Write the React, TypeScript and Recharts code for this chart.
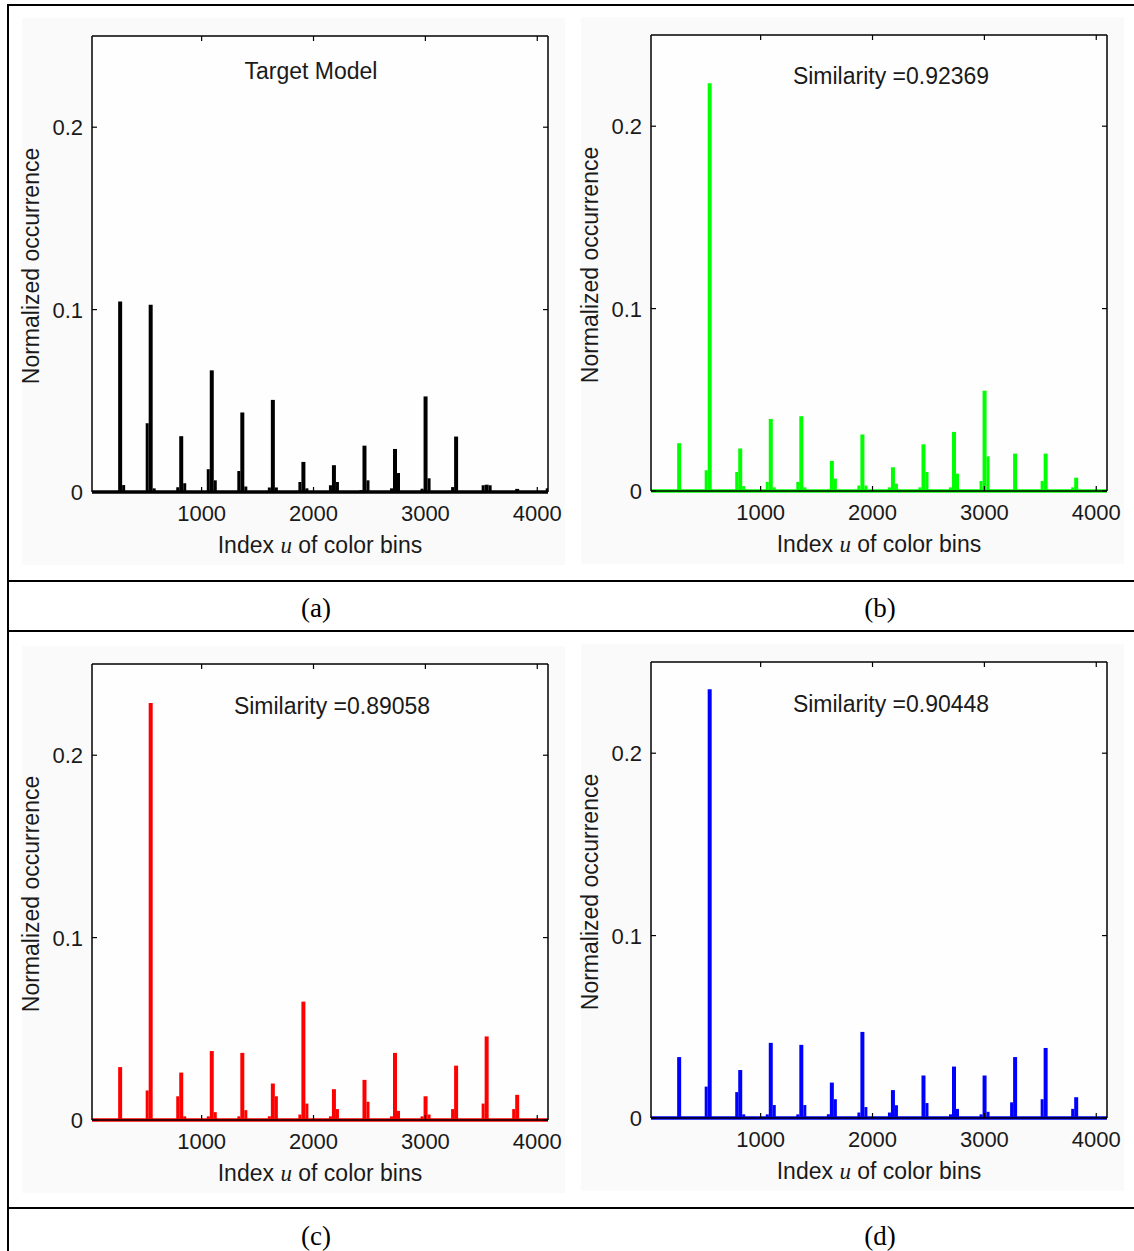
import React from 'react';
import { ComposedChart, Bar, XAxis, YAxis, ReferenceLine, Label } from 'recharts';

// gray-level bins of the 16x16x16 colour histogram (r = g = b)
const grayBins = [274, 547, 820, 1093, 1366, 1639, 1912, 2185, 2458, 2731, 3004, 3277, 3550, 3823, 4096];

const xTicks = [1000, 2000, 3000, 4000];
const yTicks = [0, 0.1, 0.2];

// (a) target model
const targetMain = [0.1045, 0.1026, 0.0306, 0.0667, 0.0436, 0.0505, 0.0165, 0.0147, 0.0254, 0.0236, 0.0524, 0.0304, 0.004, 0.0017, 0.002];
const targetLeft = [0, 0.0377, 0.0026, 0.0125, 0.0115, 0.0025, 0.0055, 0.0037, 0.001, 0.002, 0.0018, 0.0027, 0.0037, 0, 0];
const targetRight = [0.0038, 0.002, 0.0048, 0.0064, 0.003, 0.0025, 0.002, 0.0055, 0.0064, 0.0104, 0.0075, 0, 0.0037, 0, 0];

// (b) similarity 0.92369
const greenMain = [0.0262, 0.2235, 0.0233, 0.0395, 0.041, 0.0165, 0.031, 0.013, 0.0256, 0.0324, 0.055, 0.0205, 0.0205, 0.0073, 0];
const greenLeft = [0, 0.0114, 0.0104, 0.005, 0.005, 0, 0.003, 0.002, 0.002, 0.002, 0.0055, 0, 0.0055, 0.002, 0];
const greenRight = [0, 0, 0.0027, 0.002, 0.002, 0.0068, 0.003, 0.004, 0.0104, 0.0095, 0.019, 0, 0, 0, 0];

// (c) similarity 0.89058
const redMain = [0.029, 0.2286, 0.026, 0.0378, 0.0368, 0.02, 0.0649, 0.0169, 0.022, 0.0368, 0.013, 0.0298, 0.0458, 0.0138, 0];
const redLeft = [0, 0.0162, 0.013, 0.002, 0.002, 0.002, 0.003, 0.002, 0, 0.002, 0.002, 0.006, 0.009, 0.006, 0];
const redRight = [0, 0, 0.002, 0.0043, 0.0054, 0.013, 0.009, 0.006, 0.01, 0.005, 0.003, 0, 0, 0, 0];

// (d) similarity 0.90448
const blueMain = [0.0334, 0.235, 0.0263, 0.0412, 0.0401, 0.0194, 0.0472, 0.0153, 0.0233, 0.0282, 0.0233, 0.0334, 0.0384, 0.0114, 0];
const blueLeft = [0, 0.0172, 0.0142, 0.002, 0.002, 0.002, 0.003, 0.003, 0, 0.002, 0.002, 0.0086, 0.0103, 0.005, 0];
const blueRight = [0, 0, 0.002, 0.0071, 0.0071, 0.0103, 0.006, 0.007, 0.0082, 0.005, 0.0034, 0, 0, 0, 0];

const SANS = '"Liberation Sans", Arial, sans-serif';
const SERIF = '"Liberation Serif", "Times New Roman", serif';
const axisStyle = { stroke: '#000', strokeWidth: 1.5 };

const BOX_W = 456;
const BOX_H = 456;
const PAD_L = 80;
const PAD_T = 10;
const PAD_R = 40;

function BottomTick(props: any) {
  const { x, y, payload } = props;
  return (
    <g>
      <line x1={x} x2={x} y1={y} y2={y - 5} stroke="#000" strokeWidth={1.2} />
      <text x={x} y={y + 29} textAnchor="middle" fontFamily={SANS} fontSize={22} fill="#1a1a1a">
        {payload.value}
      </text>
    </g>
  );
}

function TopTick(props: any) {
  const { x, y } = props;
  return <line x1={x} x2={x} y1={y} y2={y + 5} stroke="#000" strokeWidth={1.2} />;
}

function LeftTick(props: any) {
  const { x, y, payload } = props;
  return (
    <g>
      <line x1={x} x2={x + 5} y1={y} y2={y} stroke="#000" strokeWidth={1.2} />
      <text x={x - 9} y={y + 8} textAnchor="end" fontFamily={SANS} fontSize={22} fill="#1a1a1a">
        {payload.value}
      </text>
    </g>
  );
}

function RightTick(props: any) {
  const { x, y } = props;
  return <line x1={x} x2={x - 5} y1={y} y2={y} stroke="#000" strokeWidth={1.2} />;
}

function XTitle(props: any) {
  const { viewBox } = props;
  return (
    <text x={viewBox.x + viewBox.width / 2} y={viewBox.y + 61} textAnchor="middle" fontFamily={SANS} fontSize={23} fill="#1a1a1a">
      Index <tspan fontFamily={SERIF} fontStyle="italic">u</tspan> of color bins
    </text>
  );
}

function YTitle(props: any) {
  const { viewBox } = props;
  const cx = viewBox.x + 9;
  const cy = viewBox.y + 230;
  return (
    <text x={cx} y={cy} transform={`rotate(-90 ${cx} ${cy})`} textAnchor="middle" dominantBaseline="central" fontFamily={SANS} fontSize={23} fill="#1a1a1a">
      Normalized occurrence
    </text>
  );
}

interface PanelProps {
  boxX: number;
  boxY: number;
  color: string;
  title: string;
  titleX: number;
  titleY: number;
  main: number[];
  left: number[];
  right: number[];
}

function HistPanel({ boxX, boxY, color, title, titleX, titleY, main, left, right }: PanelProps) {
  const rows = grayBins.map((bin, i) => ({ bin, left: left[i], main: main[i], right: right[i] }));
  return (
    <div style={{ position: 'absolute', left: boxX - PAD_L, top: boxY - PAD_T }}>
      {/* figure background */}
      <div style={{ position: 'absolute', left: PAD_L - 70, top: PAD_T - 18, width: 543, height: 547, background: '#fafafa' }} />
      <div style={{ position: 'absolute', left: PAD_L, top: PAD_T, width: BOX_W, height: BOX_H, background: '#fefefe' }} />
      <div style={{ position: 'absolute', left: 0, top: 0 }}>
        <ComposedChart
          width={PAD_L + BOX_W + PAD_R}
          height={PAD_T + BOX_H + 75}
          data={rows}
          margin={{ top: 5, right: 5, bottom: 5, left: 10 }}
          barGap={0}
        >
          <XAxis
            type="number"
            dataKey="bin"
            domain={[20, 4096]}
            ticks={xTicks}
            interval={0}
            allowDataOverflow
            height={70}
            tickSize={0}
            tickMargin={0}
            tickLine={false}
            axisLine={axisStyle}
            tick={(p: any) => <BottomTick {...p} />}
          >
            <Label content={(p: any) => <XTitle {...p} />} />
          </XAxis>
          <XAxis
            xAxisId="top"
            orientation="top"
            type="number"
            dataKey="bin"
            domain={[20, 4096]}
            ticks={xTicks}
            interval={0}
            allowDataOverflow
            height={5}
            tickSize={0}
            tickMargin={0}
            tickLine={false}
            axisLine={axisStyle}
            tick={(p: any) => <TopTick {...p} />}
          />
          <YAxis
            type="number"
            domain={[0, 0.25]}
            ticks={yTicks}
            interval={0}
            allowDataOverflow
            width={70}
            tickSize={0}
            tickMargin={0}
            tickLine={false}
            axisLine={axisStyle}
            tick={(p: any) => <LeftTick {...p} />}
          >
            <Label content={(p: any) => <YTitle {...p} />} />
          </YAxis>
          <YAxis
            yAxisId="right"
            orientation="right"
            type="number"
            domain={[0, 0.25]}
            ticks={yTicks}
            interval={0}
            allowDataOverflow
            width={PAD_R - 5}
            tickSize={0}
            tickMargin={0}
            tickLine={false}
            axisLine={axisStyle}
            tick={(p: any) => <RightTick {...p} />}
          />
          <Bar dataKey="left" fill={color} barSize={3} isAnimationActive={false} />
          <Bar dataKey="main" fill={color} barSize={4} isAnimationActive={false} />
          <Bar dataKey="right" fill={color} barSize={3} isAnimationActive={false} />
          <ReferenceLine y={0} stroke={color} strokeWidth={3.5} />
        </ComposedChart>
      </div>
      <div
        style={{
          position: 'absolute',
          left: PAD_L + titleX,
          top: PAD_T + titleY,
          transform: 'translate(-50%, -50%)',
          whiteSpace: 'nowrap',
          fontFamily: SANS,
          fontSize: 23,
          color: '#1a1a1a',
        }}
      >
        {title}
      </div>
    </div>
  );
}

function Caption({ x, y, text }: { x: number; y: number; text: string }) {
  return (
    <div
      style={{
        position: 'absolute',
        left: x,
        top: y,
        transform: 'translate(-50%, -50%)',
        fontFamily: SERIF,
        fontSize: 27,
        color: '#000',
      }}
    >
      {text}
    </div>
  );
}

const hLine = (top: number) => (
  <div style={{ position: 'absolute', left: 7, top, width: 1127, height: 2, background: '#000' }} />
);

export default function App() {
  return (
    <div style={{ position: 'absolute', left: 0, top: 0, width: 1134, height: 1251, background: '#fff', overflow: 'hidden' }}>
      <HistPanel boxX={92} boxY={36} color="#000000" title="Target Model" titleX={219} titleY={35}
        main={targetMain} left={targetLeft} right={targetRight} />
      <HistPanel boxX={651} boxY={35} color="#00ff00" title="Similarity =0.92369" titleX={240} titleY={41}
        main={greenMain} left={greenLeft} right={greenRight} />
      <HistPanel boxX={92} boxY={664} color="#ff0000" title="Similarity =0.89058" titleX={240} titleY={42}
        main={redMain} left={redLeft} right={redRight} />
      <HistPanel boxX={651} boxY={662} color="#0000ff" title="Similarity =0.90448" titleX={240} titleY={42}
        main={blueMain} left={blueLeft} right={blueRight} />

      {/* table rules */}
      {hLine(4)}
      {hLine(580)}
      {hLine(630)}
      {hLine(1207)}
      <div style={{ position: 'absolute', left: 7, top: 4, width: 2, height: 1247, background: '#000' }} />

      <Caption x={316} y={608} text="(a)" />
      <Caption x={880} y={608} text="(b)" />
      <Caption x={316} y={1236} text="(c)" />
      <Caption x={880} y={1236} text="(d)" />
    </div>
  );
}
